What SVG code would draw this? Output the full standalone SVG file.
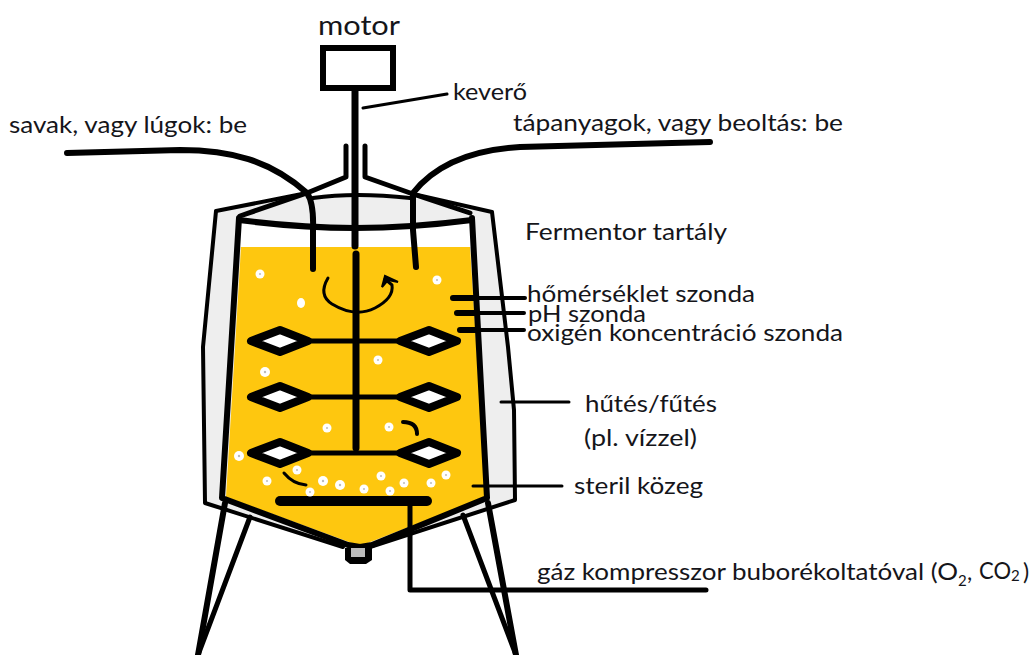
<svg xmlns="http://www.w3.org/2000/svg" width="1035" height="655" viewBox="0 0 1035 655">
<style>
.l{fill:none;stroke:#000;stroke-linecap:round;stroke-linejoin:round}
.w7{stroke-width:7}.w6{stroke-width:6}.w5{stroke-width:5}.w4{stroke-width:4}.w3{stroke-width:3}
.t{font-family:Lato,"Noto Sans",sans-serif;font-size:23px;fill:#15151a}
.s{font-size:14px}
.d{fill:#fff;stroke:#000;stroke-width:8;stroke-linejoin:round}
.b{fill:#fff}
.m{fill:#bbb}
.c{fill:#bbb}
</style>
<defs>
<path id="dl" class="d" d="M-29 0L0-11L28 0L0 11Z"/>
<g id="bu"><circle class="b" r="5"/><circle class="m" r="1.2"/></g>
<g id="bs"><circle class="b" r="4.5"/><circle class="m" r="1"/></g>
</defs>
<rect width="1035" height="655" fill="#fff"/>
<g id="jacket">
<path d="M216 211L307 196Q355 190 413 198L492 212L508 347L514 410L515 500L370 549L343 549L205 503L203 347Z" fill="#eee"/>
<path class="l w4" d="M216 211L203 347L205 503L343 547M492 212L508 347L514 410L515 500L370 547M216 211L307 193M492 212L413 194M313 198Q355 192 410 198"/>
<path class="l w5" d="M346 146V177L307 193L240 216M365 146V177L413 194L470 213"/>
</g>
<g id="vessel">
<path d="M241 219L355 229L470 219L476 247H238Z" fill="#fff"/>
<path d="M241 247H470L486 497L360 546L226 497Z" fill="#fec70f"/>
<path class="l w6" d="M239 218L222 498L348 545L360 547L372 545L487 498L472 218"/>
<path class="l w6" d="M239 220Q300 228 355 228Q410 228 472 220"/>
</g>
<g id="drain">
<path d="M345 548V560L350 564H366L372 560V548Z" fill="#000"/>
<rect class="c" x="351" y="548" width="14" height="9"/>
</g>
<g id="legs">
<path class="l w6" d="M225 503L198 655M488 503L516 655"/>
<path class="l w5" d="M250 517L198 655M463 515L516 655"/>
</g>
<g id="motor">
<rect x="323" y="48" width="70" height="40" fill="#fff" stroke="#000" stroke-width="6"/>
<text class="t" x="318" y="35" style="font-size:27px" textLength="82" lengthAdjust="spacingAndGlyphs">motor</text>
</g>
<g id="stirrer">
<path class="l w7" d="M355 90V246"/>
<path class="l w7" d="M356 254V448"/>
<path class="l w5" d="M310 341H397M310 397H397M310 453H397"/>
<use href="#dl" x="280" y="341"/><use href="#dl" x="429" y="341"/>
<use href="#dl" x="280" y="397"/><use href="#dl" x="429" y="397"/>
<use href="#dl" x="280" y="453"/><use href="#dl" x="429" y="453"/>
<path class="l w3" d="M328 278Q318 295 332 304Q355 318 375 308Q394 298 392 285L385 279"/>
<path d="M382 287L385 276L398 282L388 280Z" fill="#000" stroke="#000" stroke-width="2"/>
<path class="l w3" d="M284 473Q293 484 306 485"/>
<path class="l w4" d="M403 422Q417 422 417 434"/>
</g>
<g id="connectors">
<path class="l w6" d="M67 153L180 150C230 150 270 160 307 193Q314 203 313 230V269"/>
<path class="l w6" d="M710 142L520 147C470 150 435 165 413 193V230L416 267"/>
<path class="l w6" d="M453 298H475M457 313H476M460 330H477"/>
<path class="l w4" d="M475 298H525M476 313H524M477 330H524"/>
<path class="l w3" d="M363 108L447 94M501 402H569M473 486H562"/>
<path class="l" stroke-width="10" d="M280 501H427"/>
<path class="l w5" d="M410 502V590H706"/>
</g>
<g id="bubbles">
<use href="#bs" x="260" y="274"/><use href="#bs" x="437" y="280"/>
<ellipse class="b" cx="301" cy="303" rx="4" ry="5"/>
<use href="#bs" x="378" y="360"/><use href="#bu" x="265" y="372"/>
<use href="#bs" x="327" y="428"/><use href="#bs" x="389" y="427"/>
<use href="#bu" x="239" y="456"/><use href="#bs" x="297" y="470"/>
<use href="#bs" x="267" y="481"/><use href="#bs" x="310" y="492"/>
<use href="#bu" x="323" y="481"/><use href="#bu" x="340" y="485"/>
<use href="#bs" x="364" y="489"/><use href="#bs" x="381" y="476"/>
<use href="#bs" x="390" y="491"/><use href="#bs" x="404" y="483"/>
<use href="#bs" x="431" y="483"/><use href="#bs" x="446" y="475"/>
</g>
<g id="labels">
<text class="t" x="9" y="133" textLength="238" lengthAdjust="spacingAndGlyphs">savak, vagy lúgok: be</text>
<text class="t" x="513" y="131" textLength="330" lengthAdjust="spacingAndGlyphs">tápanyagok, vagy beoltás: be</text>
<text class="t" x="453" y="100" textLength="74" lengthAdjust="spacingAndGlyphs">keverő</text>
<text class="t" x="525" y="240" textLength="202" lengthAdjust="spacingAndGlyphs">Fermentor tartály</text>
<text class="t" x="527" y="302" textLength="228" lengthAdjust="spacingAndGlyphs">hőmérséklet szonda</text>
<text class="t" x="528" y="322" textLength="118" lengthAdjust="spacingAndGlyphs">pH szonda</text>
<text class="t" x="527" y="341" textLength="316" lengthAdjust="spacingAndGlyphs">oxigén koncentráció szonda</text>
<text class="t" x="585" y="412" textLength="132" lengthAdjust="spacingAndGlyphs">hűtés/fűtés</text>
<text class="t" x="584" y="446" textLength="113" lengthAdjust="spacingAndGlyphs">(pl. vízzel)</text>
<text class="t" x="574" y="494" textLength="129" lengthAdjust="spacingAndGlyphs">steril közeg</text>
<text class="t" x="537" y="580" textLength="421" lengthAdjust="spacingAndGlyphs">gáz kompresszor buborékoltatóval (O</text>
<text class="t s" x="958" y="586" style="font-size:15px">2</text>
<text class="t" x="967" y="580">,</text>
<text class="t" x="979" y="579" style="font-size:23px" textLength="32" lengthAdjust="spacingAndGlyphs">CO</text>
<text class="t s" x="1011" y="581" style="font-size:15px">2</text>
<text class="t" x="1023" y="580">)</text>
</g>
</svg>
